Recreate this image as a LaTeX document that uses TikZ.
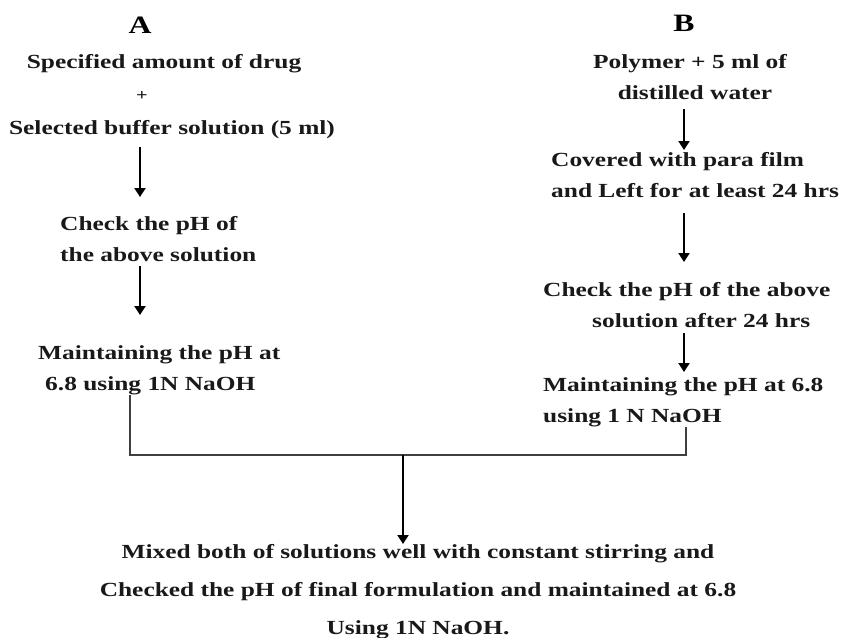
\documentclass[tikz,border=0pt]{standalone}
\usepackage{fontspec}
\setmainfont{Liberation Serif}[FakeStretch=1.27]
\usetikzlibrary{arrows.meta}
\begin{document}
\begin{tikzpicture}[x=1pt,y=-1pt,
  txt/.style={inner sep=0pt, font=\bfseries\fontsize{20}{31.5}\selectfont, text=black!90},
  head/.style={inner sep=0pt, font=\bfseries\fontsize{25}{28}\selectfont},
  arr/.style={line width=2pt, -{Triangle[length=9pt,width=11pt]}},
  conn/.style={line width=1.4pt, draw=black!75}]
\useasboundingbox (0,0) rectangle (842,637);
% headings
\node[head] (hA) at (140,25) {A};
\node[head] (hB) at (684,23) {B};
% column A
\node[txt, anchor=base] (spec) at (164,68) {Specified amount of drug};
\node[txt, font=\bfseries\fontsize{16}{20}\selectfont] (plus) at (142,96) {+};
\node[txt, anchor=base] (sel) at (172,134) {Selected buffer solution (5 ml)};
\node[txt, align=left, anchor=north west] (chkA) at (60,216) {Check the pH of\\the above solution};
\node[txt, align=left, anchor=north west] (maintA) at (38,345) {Maintaining the pH at\\\hspace*{7pt}6.8 using 1N NaOH};
% column B
\node[txt, align=center, anchor=north] (poly) at (690,54) {Polymer + 5 ml of\\\hspace*{10pt}distilled water};
\node[txt, align=left, anchor=north west] (cov) at (551,152) {Covered with para film\\and Left for at least 24 hrs};
\node[txt, align=left, anchor=north west] (chkB) at (543,282) {Check the pH of the above\\\hspace*{49pt}solution after 24 hrs};
\node[txt, align=left, anchor=north west] (maintB) at (543,377) {Maintaining the pH at 6.8\\using 1 N NaOH};
% bottom
\node[txt, align=center, anchor=north, font=\bfseries\fontsize{20}{38}\selectfont] (mix) at (418,544) {Mixed both of solutions well with constant stirring and\\Checked the pH of final formulation and maintained at 6.8\\Using 1N NaOH.};
% arrow x positions
\coordinate (ax) at (140,0);
\coordinate (bx) at (684,0);
\coordinate (aL) at (130,0);
\coordinate (bR) at (686,0);
\coordinate (j) at (403,455);
% arrows column A
\draw[arr, shorten <=9pt, shorten >=19pt] (sel.south -| ax) -- (chkA.north -| ax);
\draw[arr, shorten <=4pt, shorten >=30pt] (chkA.south -| ax) -- (maintA.north -| ax);
% arrows column B
\draw[arr, shorten <=9pt, shorten >=2pt] (poly.south -| bx) -- (cov.north -| bx);
\draw[arr, shorten <=15pt, shorten >=20pt] (cov.south -| bx) -- (chkB.north -| bx);
\draw[arr, shorten <=5pt, shorten >=5pt] (chkB.south -| bx) -- (maintB.north -| bx);
% joining
\draw[conn] (maintA.south -| aL) |- (j) -| (maintB.south -| bR);
\draw[arr] (j) -- (mix.north -| j);
\end{tikzpicture}
\end{document}
